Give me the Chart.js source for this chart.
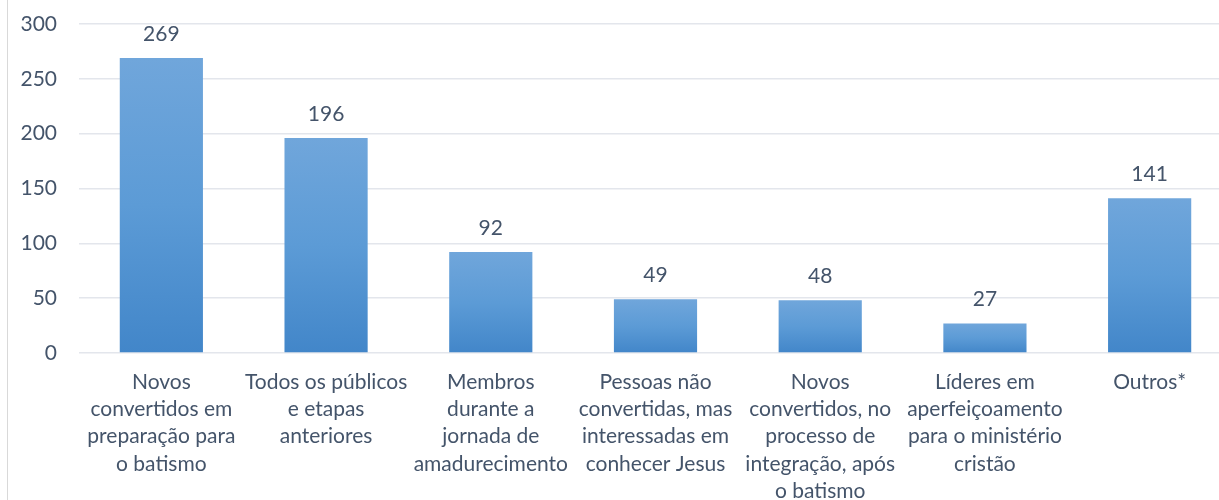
<!DOCTYPE html>
<html>
<head>
<meta charset="utf-8">
<script src="https://cdn.jsdelivr.net/npm/chart.js@4"></script>
<style>
html,body{margin:0;padding:0;overflow:hidden;background:#fff;width:1219px;height:500px;}
#wrap{position:absolute;left:0;top:0;width:1232px;height:500px;}
</style>
</head>
<body>
<div id="wrap"><canvas id="c" width="1232" height="500"></canvas></div>
<script>
const categories = [
  ["Novos","convertidos em","preparação para","o batismo"],
  ["Todos os públicos","e etapas","anteriores"],
  ["Membros","durante a","jornada de","amadurecimento"],
  ["Pessoas não","convertidas, mas","interessadas em","conhecer Jesus"],
  ["Novos","convertidos, no","processo de","integração, após","o batismo"],
  ["Líderes em","aperfeiçoamento","para o ministério","cristão"],
  ["Outros*"]
];
const values = [269, 196, 92, 49, 48, 27, 141];
const yMin = 0, yMax = 300, yStep = 50;

const FONT = "Lato";
const FSIZE = 21;
const TEXT = "#44546a";

function barGradient(context){
  const chart = context.chart;
  const ys = chart.scales.y;
  if (!ys || !chart.chartArea) return "#5b9bd5";
  const v = context.raw;
  const top = ys.getPixelForValue(v);
  const bot = ys.getPixelForValue(0);
  if (!isFinite(top) || !isFinite(bot) || top === bot) return "#5b9bd5";
  const g = chart.ctx.createLinearGradient(0, top, 0, bot);
  g.addColorStop(0, "#70a6db");
  g.addColorStop(0.5, "#5c9bd6");
  g.addColorStop(1, "#4286c9");
  return g;
}

const labelsPlugin = {
  id: "valLabels",
  afterDatasetsDraw(chart){
    const ctx = chart.ctx;
    const meta = chart.getDatasetMeta(0);
    ctx.save();
    ctx.font = FSIZE + "px " + FONT;
    ctx.fillStyle = TEXT;
    ctx.textAlign = "center";
    ctx.textBaseline = "alphabetic";
    meta.data.forEach((el, i) => {
      ctx.fillText(String(values[i]), el.x, el.y - 17);
    });
    ctx.restore();
  }
};
const framePlugin = {
  id: "frame",
  beforeDraw(chart){
    const ctx = chart.ctx;
    ctx.save();
    ctx.strokeStyle = "#d9d9d9";
    ctx.lineWidth = 1;
    ctx.beginPath();
    ctx.moveTo(7.5, 0);
    ctx.lineTo(7.5, 500);
    ctx.stroke();
    ctx.restore();
  }
};

new Chart(document.getElementById("c"), {
  type: "bar",
  data: {
    labels: categories,
    datasets: [{
      data: values,
      backgroundColor: barGradient,
      borderWidth: 0,
      barPercentage: 1,
      categoryPercentage: 0.505
    }]
  },
  options: {
    responsive: false,
    animation: false,
    devicePixelRatio: 1,
    layout: { autoPadding: false, padding: { top: 24, left: 0, right: 0, bottom: 0 } },
    plugins: { legend: { display: false }, tooltip: { enabled: false } },
    scales: {
      x: {
        afterFit(s){ s.height = 147; s.paddingLeft = 0; s.paddingRight = 0; },
        grid: { display: false, drawTicks: false },
        border: { display: false },
        ticks: {
          autoSkip: false, maxRotation: 0, minRotation: 0,
          color: TEXT, padding: 16,
          font: { family: FONT, size: FSIZE, lineHeight: 1.29 }
        }
      },
      y: {
        min: yMin, max: yMax,
        afterFit(s){ s.width = 79; s.paddingTop = 0; s.paddingBottom = 0; },
        grid: { color: "#e3e6ec", lineWidth: 1.5, drawTicks: false },
        border: { display: false },
        ticks: {
          stepSize: yStep, color: TEXT, padding: 22,
          font: { family: FONT, size: FSIZE }
        }
      }
    }
  },
  plugins: [labelsPlugin, framePlugin]
});
</script>
</body>
</html>
